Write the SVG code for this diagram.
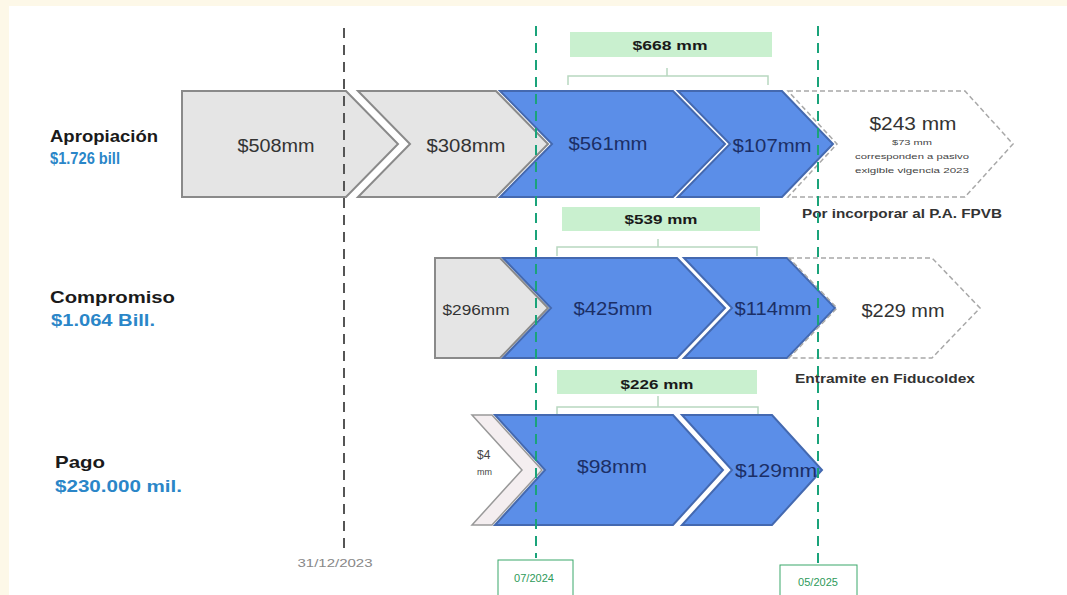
<svg xmlns="http://www.w3.org/2000/svg" width="1067" height="595" viewBox="0 0 1067 595">
<style>
.lbl{font-family:"Liberation Sans",Arial,sans-serif;font-weight:bold;font-size:17px;fill:#1a1a1a}
.val{font-family:"Liberation Sans",Arial,sans-serif;font-weight:bold;font-size:15px;fill:#2a86c8}
.gray{fill:#e5e5e5;stroke:#8a8a8a;stroke-width:2}
.blue{fill:#5b8ee8;stroke:#4469b0;stroke-width:2}
.white{fill:#ffffff;stroke:#a8a8a8;stroke-width:1.5;stroke-dasharray:5 3}
.t{font-family:"Liberation Sans",Arial,sans-serif;font-size:18px;fill:#333;text-anchor:middle}
.tb{font-family:"Liberation Sans",Arial,sans-serif;font-size:18px;fill:#1b2f66;text-anchor:middle}
.sm{font-family:"Liberation Sans",Arial,sans-serif;font-size:7px;fill:#444;text-anchor:middle}
.note{font-family:"Liberation Sans",Arial,sans-serif;font-weight:bold;font-size:13px;fill:#333;text-anchor:middle}
.gbox{fill:#c9f0cf}
.gt{font-family:"Liberation Sans",Arial,sans-serif;font-weight:bold;font-size:13px;fill:#1a1a1a;text-anchor:middle}
.br{fill:none;stroke:#b8d8c0;stroke-width:1.5}
.vg{stroke:#555;stroke-width:2;stroke-dasharray:10 7;fill:none}
.vt{stroke:#1aa37a;stroke-width:2;stroke-dasharray:10 7;fill:none}
.dbox{fill:#fff;stroke:#3aa86a;stroke-width:1}
.dt{font-family:"Liberation Sans",Arial,sans-serif;font-size:11px;fill:#2e9a5a;text-anchor:middle}
</style>
<rect x="0" y="0" width="1067" height="595" fill="#fdf8e8"/>
<rect x="9" y="6" width="1058" height="589" fill="#ffffff"/>

<g id="labels">
<text class="lbl" x="50" y="142" textLength="108" lengthAdjust="spacingAndGlyphs">Apropiación</text>
<text class="val" x="50" y="164" style="font-size:16px" textLength="70" lengthAdjust="spacingAndGlyphs">$1.726 bill</text>
<text class="lbl" x="50" y="303" textLength="125" lengthAdjust="spacingAndGlyphs">Compromiso</text>
<text class="val" x="51" y="326" style="font-size:16px" textLength="104" lengthAdjust="spacingAndGlyphs">$1.064 Bill.</text>
<text class="lbl" x="55" y="468" textLength="50" lengthAdjust="spacingAndGlyphs">Pago</text>
<text class="val" x="55" y="492" style="font-size:16px" textLength="127" lengthAdjust="spacingAndGlyphs">$230.000 mil.</text>
</g>

<g id="row-apropiacion">
<g id="a1"><path class="gray" d="M182,91 L346,91 L398,144 L346,197 L182,197 Z"/><text class="t" x="276" y="152" textLength="77" lengthAdjust="spacingAndGlyphs">$508mm</text></g>
<g id="a2"><path class="gray" d="M358,91 L496,91 L548,144 L496,197 L358,197 L410,144 Z"/><text class="t" x="466" y="152" textLength="79" lengthAdjust="spacingAndGlyphs">$308mm</text></g>
<g id="a3"><path class="blue" d="M500,91 L673,91 L725,144 L673,197 L500,197 L552,144 Z"/><text class="tb" x="608" y="150" textLength="79" lengthAdjust="spacingAndGlyphs">$561mm</text></g>
<g id="a4"><path class="blue" d="M678,91 L782,91 L833,144 L782,197 L678,197 L730,144 Z"/><text class="tb" x="772" y="152" textLength="79" lengthAdjust="spacingAndGlyphs">$107mm</text></g>
<g id="a5"><path class="white" d="M788,91 L965,91 L1013,144 L965,197 L788,197 L837,144 Z"/>
<text class="t" x="913" y="130" textLength="87" lengthAdjust="spacingAndGlyphs">$243 mm</text>
<text class="sm" x="912" y="145" textLength="40" lengthAdjust="spacingAndGlyphs">$73 mm</text>
<text class="sm" x="912" y="159" textLength="114" lengthAdjust="spacingAndGlyphs">corresponden a pasivo</text>
<text class="sm" x="912" y="173" textLength="114" lengthAdjust="spacingAndGlyphs">exigible vigencia 2023</text></g>
<text class="note" x="902" y="218" textLength="200" lengthAdjust="spacingAndGlyphs">Por incorporar al P.A. FPVB</text>
</g>

<g id="row-compromiso">
<g id="c1"><path class="gray" d="M435,258 L500,258 L548,308 L500,358 L435,358 Z"/><text class="t" x="476" y="315" style="font-size:15px" textLength="67" lengthAdjust="spacingAndGlyphs">$296mm</text></g>
<g id="c2"><path class="blue" d="M503,258 L677,258 L725,308 L677,358 L503,358 L551,308 Z"/><text class="tb" x="613" y="315" textLength="79" lengthAdjust="spacingAndGlyphs">$425mm</text></g>
<g id="c3"><path class="blue" d="M684,258 L787,258 L835,308 L787,358 L684,358 L732,308 Z"/><text class="tb" x="773" y="315" textLength="77" lengthAdjust="spacingAndGlyphs">$114mm</text></g>
<g id="c4"><path class="white" d="M789,258 L932,258 L980,308 L932,358 L789,358 L837,308 Z"/><text class="t" x="903" y="317" textLength="83" lengthAdjust="spacingAndGlyphs">$229 mm</text></g>
<text class="note" x="885" y="383" textLength="180" lengthAdjust="spacingAndGlyphs">Entramite en Fiducoldex</text>
</g>

<g id="row-pago">
<g id="p1"><path d="M472,415 L492,415 L542,470 L492,525 L472,525 L522,470 Z" fill="#f4eef0" stroke="#999" stroke-width="1.5"/>
<text x="477" y="459" style="font-family:'Liberation Sans',Arial,sans-serif;font-size:12px;fill:#444">$4</text>
<text x="477" y="475" style="font-family:'Liberation Sans',Arial,sans-serif;font-size:9px;fill:#444">mm</text></g>
<g id="p2"><path class="blue" d="M495,415 L673,415 L723,470 L673,525 L495,525 L545,470 Z"/><text class="tb" x="612" y="473" textLength="70" lengthAdjust="spacingAndGlyphs">$98mm</text></g>
<g id="p3"><path class="blue" d="M682,415 L772,415 L822,470 L772,525 L682,525 L732,470 Z"/><text class="tb" x="776" y="477" textLength="82" lengthAdjust="spacingAndGlyphs">$129mm</text></g>
</g>

<g id="totals">
<g id="tot1"><rect class="gbox" x="570" y="32" width="202" height="25"/><text class="gt" x="670" y="50" textLength="75" lengthAdjust="spacingAndGlyphs">$668 mm</text>
<path class="br" d="M568,85 L568,76 L768,76 L768,85 M667,76 L667,68"/></g>
<g id="tot2"><rect class="gbox" x="562" y="207" width="198" height="24"/><text class="gt" x="661" y="224" textLength="73" lengthAdjust="spacingAndGlyphs">$539 mm</text>
<path class="br" d="M557,256 L557,247 L757,247 L757,256 M658,247 L658,239"/></g>
<g id="tot3"><rect class="gbox" x="557" y="370" width="200" height="24"/><text class="gt" x="657" y="389" textLength="73" lengthAdjust="spacingAndGlyphs">$226 mm</text>
<path class="br" d="M557,414 L557,407 L758,407 L758,414 M658,407 L658,396"/></g>
</g>

<g id="connectors">
<line class="vg" x1="344" y1="28" x2="344" y2="550"/>
<line class="vt" x1="536" y1="26" x2="536" y2="558"/>
<line class="vt" x1="818" y1="26" x2="818" y2="566"/>
</g>

<g id="dates">
<text x="335" y="567" style="font-family:'Liberation Sans',Arial,sans-serif;font-size:11px;fill:#888;text-anchor:middle" textLength="75" lengthAdjust="spacingAndGlyphs">31/12/2023</text>
<g id="d1"><rect class="dbox" x="498" y="560" width="75" height="40"/><text class="dt" x="534" y="582">07/2024</text></g>
<g id="d2"><rect class="dbox" x="780" y="565" width="77" height="40"/><text class="dt" x="818" y="586">05/2025</text></g>
</g>
</svg>
